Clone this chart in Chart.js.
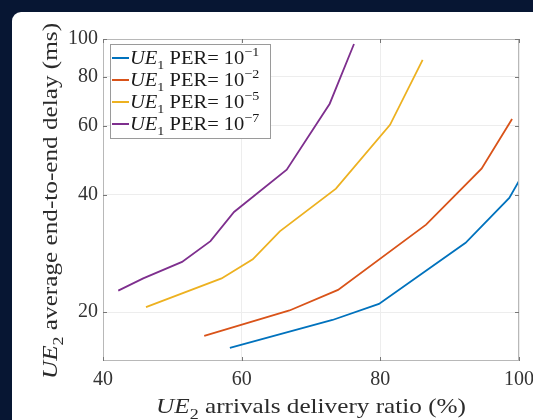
<!DOCTYPE html>
<html>
<head>
<meta charset="utf-8">
<script src="https://cdn.jsdelivr.net/npm/chart.js@4"></script>
<style>
  html, body { margin: 0; padding: 0; background: #071633; overflow: hidden; }
  #card { position: absolute; left: 12px; top: 12px; width: 560px; height: 440px; background: #fff; border-radius: 9px; }
  #myChart { position: absolute; left: 0; top: 0; }
</style>
</head>
<body>
<div id="card"></div>
<canvas id="myChart" width="533" height="420"></canvas>
<script>
// PER exponents shown in the legend
const perExponents = ['−1', '−2', '−5', '−7'];
const lineColors = ['#0072BD', '#D95319', '#EDB120', '#7E2F8E'];

// delivery ratio (%) and delay (ms) for each curve
const ratioPer1 = [58.3, 73.1, 79.8, 92.3, 98.6, 100];
const delayPer1 = [16.2, 19.1, 21.0, 30.1, 39.2, 43.3];
const ratioPer2 = [54.6, 66.9, 73.9, 86.6, 94.6, 99.0];
const delayPer2 = [17.4, 20.2, 22.8, 33.5, 46.6, 62.4];
const ratioPer5 = [46.2, 57.1, 61.6, 65.5, 73.6, 81.4, 86.1];
const delayPer5 = [20.6, 24.4, 27.3, 32.2, 41.4, 60.3, 88.4];
const ratioPer7 = [42.2, 45.8, 51.4, 55.5, 58.9, 66.5, 72.7, 76.2];
const delayPer7 = [22.7, 24.4, 26.9, 30.4, 36.1, 46.3, 68.3, 97.1];

const xTicks = [40, 60, 80, 100];
const yTicks = [20, 40, 60, 80, 100];

const serif = "'Liberation Serif', 'DejaVu Serif', serif";

function toPoints(xs, ys) {
    return xs.map((x, i) => ({ x: x, y: ys[i] }));
}

// draws a run of text pieces: '' normal, 'i' italic, 'sub', 'sup'
// hs stretches the text sideways a bit, latex fonts run wider than Times
function drawRich(c, parts, x, y, size, align, hs) {
    hs = hs || 1;
    const fontFor = (style) => {
        if (style === 'i') return `italic ${size}px ${serif}`;
        if (style === 'sub' || style === 'sup') return `${Math.round(size * 0.7)}px ${serif}`;
        return `${size}px ${serif}`;
    };
    let total = 0;
    parts.forEach(p => { c.font = fontFor(p[1]); total += c.measureText(p[0]).width; });
    c.save();
    c.translate(x, y);
    c.scale(hs, 1);
    let cx = align === 'center' ? -total / 2 : 0;
    c.textAlign = 'left';
    c.textBaseline = 'alphabetic';
    parts.forEach(p => {
        c.font = fontFor(p[1]);
        let dy = 0;
        if (p[1] === 'sub') dy = size * 0.28;
        if (p[1] === 'sup') dy = -size * 0.42;
        c.fillText(p[0], cx, dy);
        cx += c.measureText(p[0]).width;
    });
    c.restore();
}

const extras = {
    id: 'extras',
    afterDatasetsDraw(chart) {
        const c = chart.ctx;
        const a = chart.chartArea;
        const xs = chart.scales.x, ys = chart.scales.y;
        c.save();
        // axes box
        c.strokeStyle = '#b8b8b8';
        c.lineWidth = 1;
        c.strokeRect(a.left + 0.5, a.top + 0.5, a.right - a.left - 1, a.bottom - a.top - 1);
        // inner tick marks
        c.strokeStyle = '#777';
        c.beginPath();
        xTicks.forEach(v => {
            const px = Math.round(xs.getPixelForValue(v)) + 0.5;
            c.moveTo(px, a.bottom); c.lineTo(px, a.bottom - 4);
            c.moveTo(px, a.top); c.lineTo(px, a.top + 4);
        });
        yTicks.forEach(v => {
            const py = Math.round(ys.getPixelForValue(v)) + 0.5;
            c.moveTo(a.left, py); c.lineTo(a.left + 4, py);
            c.moveTo(a.right, py); c.lineTo(a.right - 4, py);
        });
        c.stroke();

        // legend box
        const lx = 110, ly = 44, lw = 160, lh = 94;
        c.fillStyle = '#fff';
        c.fillRect(lx, ly, lw, lh);
        c.strokeStyle = '#9a9a9a';
        c.strokeRect(lx + 0.5, ly + 0.5, lw, lh);
        chart.data.datasets.forEach((ds, i) => {
            const rowY = 58 + i * 22;
            c.strokeStyle = ds.borderColor;
            c.lineWidth = 2;
            c.beginPath();
            c.moveTo(112, rowY); c.lineTo(129, rowY);
            c.stroke();
            c.fillStyle = '#1a1a1a';
            drawRich(c, [['UE', 'i'], ['1', 'sub'], [' PER= 10', ''], [perExponents[i], 'sup']], 130, rowY + 6, 19, 'left', 1.08);
        });

        // axis titles
        c.fillStyle = '#2b2b2b';
        drawRich(c, [['UE', 'i'], ['2', 'sub'], [' arrivals delivery ratio (%)', '']],
            (a.left + a.right) / 2, 413, 21, 'center', 1.2);
        c.translate(57, 201);
        c.rotate(-Math.PI / 2);
        drawRich(c, [['UE', 'i'], ['2', 'sub'], [' average end-to-end delay (ms)', '']], 0, 0, 21, 'center', 1.2);
        c.restore();
    }
};

const ctx = document.getElementById('myChart');

new Chart(ctx, {
    type: 'line',
    data: {
        datasets: [
            { data: toPoints(ratioPer1, delayPer1), borderColor: lineColors[0] },
            { data: toPoints(ratioPer2, delayPer2), borderColor: lineColors[1] },
            { data: toPoints(ratioPer5, delayPer5), borderColor: lineColors[2] },
            { data: toPoints(ratioPer7, delayPer7), borderColor: lineColors[3] }
        ].map(d => Object.assign(d, { borderWidth: 1.8, pointRadius: 0, tension: 0, fill: false }))
    },
    options: {
        responsive: false,
        animation: false,
        layout: { padding: { left: 0, right: 14, top: 39, bottom: 0 } },
        plugins: { legend: { display: false }, tooltip: { enabled: false } },
        scales: {
            x: {
                type: 'linear',
                min: 40,
                max: 100,
                afterBuildTicks: s => { s.ticks = xTicks.map(v => ({ value: v })); },
                afterFit: s => { s.height = 59; s.paddingLeft = 0; s.paddingRight = 0; },
                grid: { color: '#ededed', drawTicks: false },
                border: { display: false },
                ticks: { font: { family: serif, size: 20 }, color: '#333', padding: 7, maxRotation: 0, callback: v => v }
            },
            y: {
                type: 'logarithmic',
                min: 15,
                max: 100,
                afterBuildTicks: s => { s.ticks = yTicks.map(v => ({ value: v })); },
                afterFit: s => { s.width = 103; s.paddingTop = 0; s.paddingBottom = 0; },
                grid: { color: '#ededed', drawTicks: false },
                border: { display: false },
                ticks: { font: { family: serif, size: 20 }, color: '#333', padding: 5, callback: v => v }
            }
        }
    },
    plugins: [extras]
});
</script>
</body>
</html>
